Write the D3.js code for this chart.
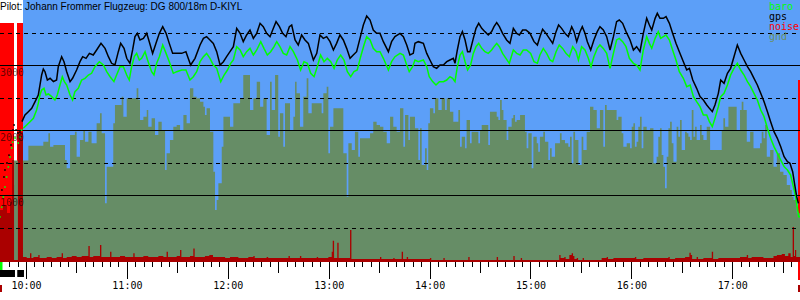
<!DOCTYPE html>
<html>
<head>
<meta charset="utf-8">
<script src="https://cdn.jsdelivr.net/npm/d3@7"></script>
<style>
  html, body { margin: 0; padding: 0; background: #fff; }
  svg { display: block; }
</style>
</head>
<body>
<div id="chart"></div>
<script>
// times are minutes after 10:00, altitudes in metres
const title = "Pilot: Johann Frommer Flugzeug: DG 800/18m D-KIYL";
const legendNames = ["baro", "gps", "noise", "gnd"];
const legendColors = ["#00ff00", "#000000", "#ff0000", "#6b8f62"];
const altSolid = [1000, 2000, 3000];
const altDashed = [500, 1500, 2500, 3500];
const hourTicks = [0, 60, 120, 180, 240, 300, 360, 420];
const hourLabels = ["10:00", "11:00", "12:00", "13:00", "14:00", "15:00", "16:00", "17:00"];
const timeRange = [-15.46, 460.26];

// engine runs: [start, end, noise level]
const engineRuns = [[-15.46, -7.15, 1000], [-5.2, -1.8, 1000], [458.9, 460.26, 759]];
const whiteGap = [-6.97, -5.2];

const gpsLaunch = [[-14.3,1077],[-13.1,1277],[-12.5,1385],[-11.3,1492],[-10.1,1615],[-8.9,1769],[-7.7,2000],[-7.1,2077],[-5.9,2000],[-4.8,1954],[-3.6,1969]];
const baroLaunch = [[-15.5,662],[-14.4,815],[-13.5,969],[-12.5,1123],[-11.5,1277],[-10.5,1431],[-9.5,1585],[-8.5,1723],[-7.9,1815],[-6.5,1877],[-4.6,1800],[-3.6,1892],[-2.6,2000]];

const gpsTrack = [[-2.4,2128],[-0.6,2231],[1.4,2282],[3.4,2333],[5.4,2436],[7.3,2538],[8.3,2692],[9.3,2846],[10.3,2938],[11.3,2897],[12.7,2769],[14.3,2795],[16.3,2744],[18.2,2769],[19.2,2974],[21.2,3128],[22.6,3051],[24.2,2897],[26.2,2744],[27.7,2795],[30.1,2923],[32.1,3051],[33.7,3128],[35.7,3103],[37.7,3179],[40.0,3154],[42.0,3231],[44.6,3333],[47.0,3256],[49.0,3128],[50.9,3026],[52.9,3000],[54.9,3205],[56.3,3333],[58.3,3256],[59.9,3103],[61.8,3026],[63.4,3231],[64.8,3436],[66.2,3487],[67.8,3385],[69.8,3410],[71.8,3487],[73.3,3359],[75.3,3179],[77.3,3333],[79.3,3487],[81.3,3590],[83.3,3487],[85.2,3333],[87.2,3179],[89.6,3179],[92.6,3179],[95.1,3205],[97.9,3000],[100.5,3103],
[103.5,3308],[105.5,3410],[107.4,3436],[109.4,3385],[111.4,3333],[113.4,3205],[115.4,3000],[117.4,3051],[119.3,3128],[121.3,3205],[123.3,3282],[125.3,3564],[127.3,3487],[129.2,3359],[131.2,3462],[133.2,3538],[135.2,3410],[137.2,3487],[139.2,3641],[141.1,3590],[143.1,3487],[145.1,3436],[147.1,3564],[148.7,3667],[150.7,3590],[152.6,3487],[154.6,3436],[156.6,3590],[158.0,3615],[160.0,3385],[161.9,3308],[163.9,3462],[165.9,3385],[167.9,3333],[170.9,3077],[172.9,3179],[174.8,3462],[176.8,3410],[178.8,3436],[180.8,3359],[182.8,3231],[184.7,3333],[186.7,3462],[188.7,3385],[190.7,3256],[192.7,3103],[194.6,3154],[196.6,3205],[198.6,3410],[200.6,3615],[202.6,3754],[204.6,3692],[206.5,3538],[208.5,3487],[210.5,3487],[212.5,3359],[215.5,3205],[217.4,3359],[219.4,3436],
[222.4,3487],[224.4,3436],[226.4,3308],[228.3,3154],[230.3,3179],[231.3,3333],[233.3,3359],[236.3,3333],[238.3,3179],[240.2,3077],[242.2,2974],[244.2,2949],[246.2,3000],[248.2,3000],[250.2,3051],[252.1,3077],[254.1,3103],[255.1,3026],[256.5,3231],[258.1,3436],[259.5,3513],[261.1,3385],[262.6,3205],[264.0,3205],[266.0,3410],[267.6,3564],[269.2,3641],[271.0,3564],[272.9,3513],[274.9,3462],[276.9,3513],[278.3,3590],[279.9,3651],[281.5,3590],[283.4,3487],[285.8,3385],[287.8,3333],[289.8,3564],[291.8,3487],[293.4,3462],[295.3,3538],[297.3,3538],[299.7,3487],[302.1,3359],[304.1,3308],[305.6,3436],[307.2,3549],[309.2,3487],[311.2,3410],[313.2,3333],[315.2,3513],[316.7,3615],[318.5,3564],[320.5,3487],[322.5,3436],[324.5,3590],[325.9,3513],[327.5,3359],[329.4,3513],[330.8,3590],[332.4,3487],[333.8,3359],[335.8,3231],[337.7,3385],[339.7,3513],
[341.3,3590],[343.3,3538],[345.3,3436],[347.3,3231],[349.3,3436],[351.2,3667],[352.8,3692],[354.8,3641],[356.8,3513],[359.2,3385],[361.2,3231],[363.1,3282],[365.1,3205],[367.1,3487],[369.1,3718],[370.7,3615],[372.1,3538],[374.1,3718],[375.4,3795],[377.0,3718],[379.0,3718],[380.6,3744],[382.6,3641],[384.5,3487],[386.5,3333],[388.5,3205],[390.9,3051],[392.9,2923],[394.5,2949],[396.5,2769],[398.8,2641],[400.8,2513],[402.8,2462],[404.8,2385],[406.4,2333],[408.1,2282],[409.7,2385],[411.7,2564],[413.1,2769],[415.1,2718],[417.1,2872],[419.0,2949],[421.0,3128],[423.0,3308],[425.0,3179],[427.0,3077],[429.0,2974],[430.9,2897],[432.9,2795],[434.9,2692],[436.9,2564],[438.9,2436],[440.9,2282],[442.8,2128],[444.8,1974],[446.8,1872],[448.8,1744],[450.8,1590],[452.8,1513],[454.3,1487],[455.9,1359],[457.3,1128],[458.3,974],[459.3,872]];

const baroTrack = [[-1.6,2026],[0.4,2077],[2.4,2128],[4.4,2179],[6.3,2308],[7.3,2410],[8.3,2538],[9.3,2615],[10.7,2641],[11.9,2538],[13.3,2554],[15.3,2513],[17.2,2462],[18.6,2538],[20.2,2692],[21.6,2820],[22.8,2744],[24.2,2692],[26.2,2538],[27.7,2462],[29.1,2590],[31.1,2641],[33.1,2769],[35.1,2795],[37.1,2846],[39.0,2872],[41.0,2974],[43.6,3051],[46.0,3000],[48.0,2897],[50.0,2820],[52.3,2744],[54.3,2872],[55.9,2974],[57.9,2974],[59.9,2846],[61.4,2769],[62.8,2974],[64.4,3128],[65.8,3179],[67.4,3077],[68.8,3103],[70.8,3205],[72.3,3077],[74.7,2897],[76.1,2846],[77.7,3026],[79.3,3128],[81.3,3308],[83.3,3179],[85.2,3051],[87.6,2872],[89.6,2897],[92.6,2923],[95.1,2923],[97.5,2769],[99.5,2820],[101.5,2897],
[103.5,3051],[105.5,3128],[107.4,3179],[109.4,3103],[111.4,3000],[113.4,2949],[115.8,2744],[117.8,2846],[119.8,2923],[121.7,3026],[123.3,3077],[125.3,3282],[127.3,3231],[129.2,3128],[131.2,3205],[133.2,3256],[135.2,3154],[137.2,3231],[139.6,3359],[141.5,3256],[143.5,3154],[145.5,3205],[147.5,3282],[149.1,3359],[151.0,3282],[153.0,3179],[155.0,3154],[157.0,3282],[159.0,3205],[161.4,3077],[163.3,2923],[165.3,3051],[167.3,3026],[169.3,2872],[171.3,2820],[173.2,2974],[175.2,3154],[177.2,3051],[179.2,3103],[181.2,3051],[183.2,2949],[185.1,3077],[187.1,3154],[189.1,3077],[191.1,2897],[193.1,2820],[195.0,2897],[197.0,2923],[199.0,3128],[201.0,3308],[202.6,3436],[204.6,3385],[206.5,3256],[208.5,3205],[210.5,3205],[212.5,3103],[215.5,2923],[217.4,3051],[219.4,3128],
[222.4,3179],[224.4,3154],[226.4,3000],[227.9,2897],[229.9,2974],[231.3,3077],[233.3,3051],[236.3,3077],[238.3,2974],[239.8,2820],[241.8,2744],[243.8,2692],[245.8,2744],[248.2,2744],[250.2,2769],[252.1,2820],[253.7,2795],[255.1,2744],[256.5,2974],[258.1,3154],[259.5,3205],[261.1,3051],[262.6,2923],[264.4,3000],[266.0,3179],[267.6,3282],[269.2,3333],[271.0,3256],[272.9,3205],[274.9,3179],[276.9,3231],[278.3,3282],[279.9,3333],[281.5,3282],[283.4,3179],[285.4,3103],[287.4,3026],[289.8,3231],[291.8,3179],[293.8,3154],[295.7,3231],[297.7,3231],[300.1,3179],[302.1,3051],[304.1,3026],[305.6,3154],[307.6,3256],[309.6,3179],[311.6,3077],[313.2,3051],[315.2,3205],[317.1,3308],[319.1,3256],[321.1,3179],[323.1,3128],[325.1,3282],[327.1,3205],[328.5,3077],[330.4,3282],[332.4,3231],[334.4,3103],[336.0,2974],[337.7,3128],[339.7,3256],
[341.3,3308],[343.3,3256],[345.3,3179],[347.3,2949],[349.3,3179],[351.2,3385],[352.8,3410],[354.8,3359],[356.8,3282],[358.8,3103],[361.2,3026],[363.1,3000],[365.1,2923],[367.1,3231],[369.1,3436],[370.7,3333],[372.1,3256],[374.1,3410],[376.0,3513],[377.4,3410],[379.0,3436],[380.6,3462],[382.6,3385],[384.5,3231],[386.5,3077],[388.5,2897],[390.9,2795],[392.9,2667],[394.9,2692],[396.9,2513],[398.8,2436],[400.8,2359],[402.8,2231],[404.8,2231],[406.4,2128],[408.1,2051],[409.7,2179],[411.7,2359],[413.1,2513],[415.1,2564],[417.1,2692],[419.0,2846],[421.0,2949],[423.0,3026],[425.0,2923],[427.0,2846],[429.0,2744],[430.9,2667],[432.9,2564],[434.9,2462],[436.9,2308],[438.9,2205],[440.9,2026],[442.8,1872],[444.8,1744],[446.8,1641],[448.8,1538],[450.8,1436],[452.8,1385],[454.7,1308],[456.3,1128],[457.7,974],[458.7,795],[459.5,667],[460.3,667]];

// terrain elevation, each value holds until the next time
const groundElev = [[-7.1,1530],[1.4,1759],[10.3,1820],[13.3,1949],[14.3,1744],[16.3,1769],[23.2,1538],[24.2,1410],[26.2,1923],[29.1,1974],[30.1,1590],[32.1,1846],[34.1,2000],[35.1,1820],[37.1,1974],[39.0,1795],[42.0,2103],[44.0,2256],[45.0,1949],[47.0,872],[48.0,1436],[51.9,2103],[52.9,2385],[56.9,2513],[57.9,2205],[59.9,2487],[65.8,2641],[66.8,2462],[67.8,2154],[69.8,2205],[71.8,2308],[72.7,2051],[74.7,2179],[76.7,1923],[78.7,2128],[80.7,2000],[82.7,1385],[83.6,1641],[85.6,1846],[87.6,2051],[89.6,2077],[91.6,2000],[93.6,2231],[95.5,2103],[97.5,2641],[99.5,2513],[101.5,2487],
[103.5,2436],[105.5,2359],[106.4,2231],[107.4,2333],[109.4,1974],[111.4,1359],[112.4,769],[113.4,923],[114.4,1179],[116.4,1744],[117.4,2205],[121.3,2051],[123.3,2410],[127.3,2487],[129.2,2846],[133.2,2308],[135.2,2487],[137.2,2744],[139.2,2359],[141.1,2487],[143.1,1923],[145.1,2744],[146.1,2308],[148.1,2846],[150.0,1897],[151.0,2256],[153.0,1744],[154.0,2410],[157.0,2000],[159.0,2205],[160.0,2744],[160.9,2564],[162.9,2051],[164.9,2513],[166.9,2795],[167.9,2256],[169.9,2410],[175.8,2256],[176.8,2564],[178.8,2667],[179.8,1641],[180.8,2051],[182.8,2333],[188.7,1641],[190.7,974],[191.7,1795],[193.7,1692],[195.6,1974],[197.6,1590],[198.6,1872],[204.6,1949],[206.5,2128],[208.5,2077],[210.5,2051],[212.5,1974],[214.5,1795],[216.5,2205],[218.4,2051],[220.4,1974],
[222.4,2333],[224.4,1744],[225.4,2231],[227.4,1846],[228.3,2205],[231.3,2026],[233.3,1538],[234.3,2026],[235.3,1462],[237.3,1718],[238.3,1385],[239.2,2103],[240.2,2333],[242.2,2256],[243.2,2487],[245.2,2308],[247.2,2487],[249.2,2308],[250.2,2487],[252.1,2282],[254.1,2128],[257.1,2308],[258.1,1744],[259.1,1897],[261.1,1718],[262.0,2154],[264.0,1795],[265.0,1974],[269.0,1795],[270.0,2000],[271.0,2077],[274.9,1769],[275.9,2282],[279.9,2205],[280.9,2154],[281.9,2462],[282.9,2308],[283.9,2154],[285.8,1846],[286.8,2051],[288.8,2179],[289.8,2231],[290.8,2128],[291.8,2154],[293.8,2231],[296.7,1974],[297.7,1718],[298.7,1949],[300.7,1410],[301.7,1897],[303.7,1795],[304.6,1667],[305.6,1897],[307.6,1974],[308.6,1820],[310.6,1538],[311.6,1718],[312.6,1590],[314.6,1795],[317.5,1949],[318.5,1846],[320.5,1795],[322.5,1744],[323.5,1897],[324.5,1487],[325.5,1974],[326.5,1846],[328.5,1462],[330.4,1897],[331.4,1692],[333.4,1974],[335.4,2359],[337.4,2308],[339.4,2026],
[341.3,2308],[343.3,1744],[344.3,2385],[345.3,2308],[351.2,2154],[352.2,2205],[354.2,1949],[355.2,1744],[357.2,1795],[359.2,1718],[360.2,2051],[361.2,2103],[362.1,1744],[363.1,1820],[364.1,2051],[365.1,2205],[366.1,1718],[367.1,2051],[369.1,2000],[371.1,2026],[373.1,1487],[375.0,1590],[376.0,1897],[377.0,2026],[378.0,1615],[379.0,1436],[380.0,1103],[381.0,1590],[382.0,2026],[383.0,2128],[384.0,1795],[385.0,1513],[386.9,2051],[387.9,1897],[388.9,2154],[389.9,1692],[391.9,1974],[392.9,1949],[393.9,1897],[394.9,1846],[395.9,2308],[396.9,1897],[397.9,2051],[398.8,1846],[400.8,2077],[401.8,1923],[402.8,1846],[404.8,2051],[406.8,1692],[413.7,2000],[414.7,2179],[415.7,2051],[417.7,2359],[422.6,2000],[424.6,2308],[425.6,2436],[426.6,2308],[428.6,1820],[430.6,1974],[432.6,1718],[436.5,1795],[437.5,1974],[438.5,1872],[439.5,2077],[440.5,1590],[442.5,1692],[444.5,1436],[446.5,1641],[448.4,1359],[450.4,1308],[452.4,1154],[454.4,1077],[455.4,974],[456.4,923],[458.4,718],[460.3,718]];

// noise level 0..1000, each value holds until the next time
const noiseLevel = [[-15.5,211],[-13.7,232],[-11.3,198],[-9.5,245],[-8.3,422],[-7.1,0],[-4.8,540],[-1.8,13],[0.4,8],[2.4,28],[3.2,8],[4.4,13],[7.3,21],[8.1,8],[12.3,13],[15.3,8],[18.2,13],[21.2,28],[22.0,8],[24.2,13],[27.2,17],[30.1,13],[33.1,17],[37.1,59],[37.9,13],[40.0,17],[44.0,63],[44.8,13],[50.0,35],[50.8,13],[55.9,17],[58.9,13],[63.8,28],[64.6,13],[69.8,17],[72.7,13],[78.7,17],[81.7,13],[83.6,35],[84.4,13],[89.6,17],[91.6,42],[92.4,13],[97.5,17],[99.5,49],[100.3,13],[106.4,17],[109.0,21],[111.2,13],[118.4,8],[121.3,13],[126.3,8],[132.2,13],[135.2,17],[136.0,8],[143.1,13],[144.0,8],[156.1,17],[156.9,8],[162.9,17],[163.7,8],[172.9,13],[173.7,8],[179.8,13],[181.8,35],[182.4,81],[183.2,8],[185.1,73],[185.9,8],[192.7,127],[193.5,4],[210.5,13],[211.3,4],[218.4,8],[219.2,4],[223.4,35],[224.2,4],[226.4,13],[227.2,4],[240.2,8],[241.0,0],[248.2,8],[249.0,0],[263.0,13],[263.8,0],[279.9,13],[280.7,0],[289.8,17],[290.6,0],[294.2,8],[295.0,0],[317.1,21],[317.9,8],[320.1,13],[320.9,4],[323.1,21],[324.5,28],[325.3,17],[326.1,4],[327.5,8],[328.3,0],[331.0,8],[331.8,0],[342.3,8],[345.3,13],[346.1,4],[349.3,8],[362.1,13],[362.9,4],[367.1,8],[382.0,13],[382.8,4],[386.0,8],[391.9,13],[394.5,31],[395.3,21],[396.1,4],[398.8,13],[399.6,4],[402.8,8],[407.8,35],[408.6,4],[411.7,8],[424.6,13],[428.6,21],[429.4,8],[431.5,13],[438.5,8],[444.5,17],[446.5,21],[449.4,25],[451.3,17],[453.3,28],[454.7,13],[455.9,139],[456.7,17],[457.3,42],[458.0,13],[460.3,13]];

const W = 800, H = 300;
const plotBottom = 260;

const svg = d3.select("#chart").append("svg")
  .attr("width", W)
  .attr("height", H)
  .style("font-family", "'DejaVu Sans Mono', monospace");

const x = d3.scaleLinear().domain(timeRange).range([0, W]);
const y = d3.scaleLinear().domain([0, 4000]).range([plotBottom, 0]);
const yNoise = d3.scaleLinear().domain([0, 1000]).range([plotBottom, 23]);

// backgrounds
svg.append("rect").attr("x", 0).attr("y", 0).attr("width", W).attr("height", 262).attr("fill", "#5c9ff8");
svg.append("rect").attr("x", 0).attr("y", 0).attr("width", 23).attr("height", 23).attr("fill", "#fff");

// engine running (bright red)
svg.selectAll("rect.engine")
  .data(engineRuns)
  .enter()
  .append("rect")
  .attr("class", "engine")
  .attr("x", d => x(d[0]))
  .attr("y", d => yNoise(d[2]))
  .attr("width", d => x(d[1]) - x(d[0]))
  .attr("height", (d, i) => (i === 2 ? 280 : plotBottom) - yNoise(d[2]))
  .attr("fill", "#ff0000")
  .attr("shape-rendering", "crispEdges");

svg.append("rect")
  .attr("x", x(whiteGap[0])).attr("y", 23)
  .attr("width", x(whiteGap[1]) - x(whiteGap[0])).attr("height", 162)
  .attr("fill", "#fff").attr("shape-rendering", "crispEdges");

// terrain
const groundArea = d3.area()
  .curve(d3.curveStepAfter)
  .x(d => x(d[0]))
  .y0(y(0))
  .y1(d => y(d[1]));
svg.append("path").datum(groundElev).attr("d", groundArea).attr("fill", "#668d66");

// noise
const noiseArea = d3.area()
  .curve(d3.curveStepAfter)
  .x(d => x(d[0]))
  .y0(plotBottom)
  .y1(d => yNoise(d[1]));
svg.append("path").datum(noiseLevel).attr("d", noiseArea).attr("fill", "#aa0000");
svg.append("rect").attr("x", 0).attr("y", 260).attr("width", W).attr("height", 2).attr("fill", "#aa0000");

// grid
svg.selectAll("line.solid")
  .data(altSolid)
  .enter()
  .append("line")
  .attr("x1", 0).attr("x2", W)
  .attr("y1", d => Math.round(y(d)) + 0.5).attr("y2", d => Math.round(y(d)) + 0.5)
  .attr("stroke", "#000").attr("stroke-width", 1);
svg.selectAll("line.dashed")
  .data(altDashed)
  .enter()
  .append("line")
  .attr("x1", 0).attr("x2", W)
  .attr("y1", d => Math.round(y(d)) + 0.5).attr("y2", d => Math.round(y(d)) + 0.5)
  .attr("stroke", "#000").attr("stroke-width", 1)
  .attr("stroke-dasharray", "4,4");

// tracks
const line = d3.line().x(d => x(d[0])).y(d => y(d[1]));
svg.append("path").datum(baroTrack).attr("d", line)
  .attr("fill", "none").attr("stroke", "#00ff00").attr("stroke-width", 1.5);
svg.append("path").datum(gpsTrack).attr("d", line)
  .attr("fill", "none").attr("stroke", "#000").attr("stroke-width", 1.5);

svg.selectAll("circle.baroLaunch")
  .data(baroLaunch)
  .enter()
  .append("circle")
  .attr("cx", d => x(d[0])).attr("cy", d => y(d[1])).attr("r", 0.9)
  .attr("fill", "#00ff00");
svg.selectAll("circle.gpsLaunch")
  .data(gpsLaunch)
  .enter()
  .append("circle")
  .attr("cx", d => x(d[0])).attr("cy", d => y(d[1])).attr("r", 0.9)
  .attr("fill", "#000");

// altitude labels
svg.selectAll("text.alt")
  .data(altSolid)
  .enter()
  .append("text")
  .attr("x", 0)
  .attr("y", d => y(d) + 10.5)
  .attr("font-size", 10)
  .attr("fill", "#000")
  .attr("fill-opacity", 0.62)
  .text(d => d);

// time axis: 5 min, half hour and hour ticks
const fiveMin = d3.range(-15, 461, 5);
const axisY = 262;
function tickAxis(values, size) {
  const g = svg.append("g")
    .attr("transform", `translate(0,${axisY})`)
    .call(d3.axisBottom(x).tickValues(values).tickSize(size).tickPadding(3)
      .tickFormat(d => {
        const i = hourTicks.indexOf(d);
        return size > 15 && i >= 0 ? hourLabels[i] : "";
      }));
  g.select(".domain").remove();
  g.selectAll("line").attr("stroke", "#000").attr("shape-rendering", "crispEdges");
  g.selectAll("text")
    .attr("font-family", "'DejaVu Sans Mono', monospace")
    .attr("font-size", 10)
    .attr("fill", "#000");
  return g;
}
tickAxis(fiveMin.filter(d => d % 30 !== 0), 5);
tickAxis(fiveMin.filter(d => d % 30 === 0 && d % 60 !== 0), 11);
tickAxis(hourTicks, 17);

// flight phase marks below the axis
svg.append("rect").attr("x", 0).attr("y", 262).attr("width", 2.5).attr("height", 8).attr("fill", "#00ff00");
svg.selectAll("rect.runMark")
  .data(engineRuns.slice(0, 2))
  .enter()
  .append("rect")
  .attr("x", d => x(d[0]))
  .attr("y", 270)
  .attr("width", d => x(d[1]) - x(d[0]) + 1)
  .attr("height", 7)
  .attr("fill", "#000");
svg.append("rect").attr("x", 0).attr("y", 285).attr("width", 2).attr("height", 7).attr("fill", "#aa0000");
svg.append("rect").attr("x", 798).attr("y", 285).attr("width", 2).attr("height", 7).attr("fill", "#aa0000");

// legend
svg.selectAll("text.legend")
  .data(legendNames)
  .enter()
  .append("text")
  .attr("x", 769)
  .attr("y", (d, i) => 10 + i * 10)
  .attr("font-size", 10)
  .attr("fill", (d, i) => legendColors[i])
  .text(d => d);

// title
svg.append("text")
  .attr("x", 0)
  .attr("y", 10)
  .attr("font-family", "'Liberation Sans', Arial, sans-serif")
  .attr("font-size", 10)
  .attr("fill", "#000")
  .text(title);
</script>
</body>
</html>
